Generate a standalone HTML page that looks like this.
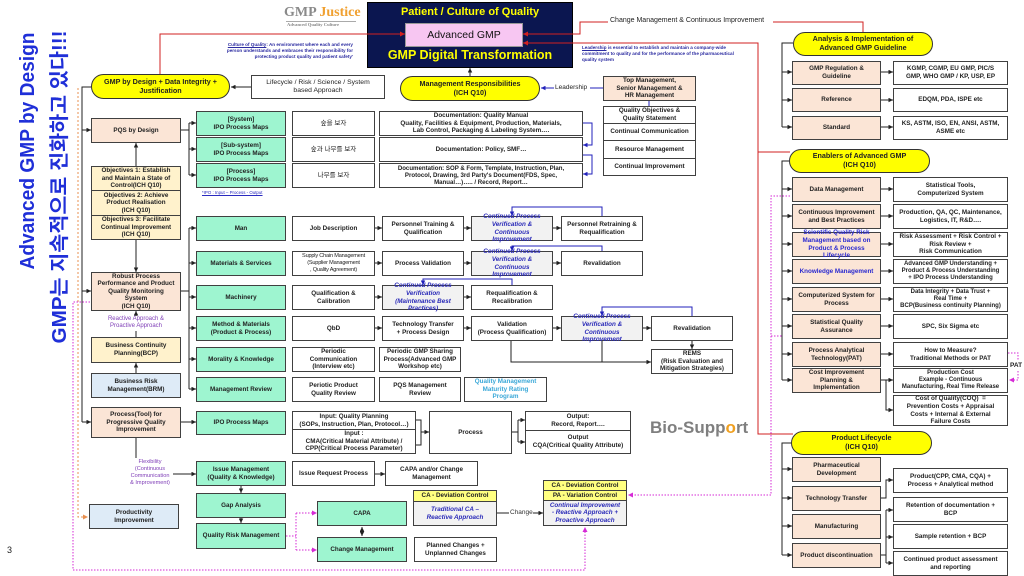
<!DOCTYPE html>
<html><head><meta charset="utf-8">
<style>
*{margin:0;padding:0;box-sizing:border-box}
body{width:1024px;height:576px;background:#fff;overflow:hidden;position:relative;font-family:"Liberation Sans","Noto Sans CJK KR",sans-serif}
.b{position:absolute;display:flex;align-items:center;justify-content:center;text-align:center;border:1px solid #404040;font-size:6.3px;font-weight:bold;line-height:1.2;color:#222;background:#fff;white-space:nowrap}
.pe{background:#fbe5d6}
.yl{background:#fff2cc}
.lb{background:#deebf7}
.gr{background:#9ef5d0}
.gy{background:#f2f2f2}
.el{background:#ffff00;border:1.3px solid #333;border-radius:13px;font-size:7.2px}
.cpv{color:#2a2ab8;font-style:italic}
.t{position:absolute;white-space:nowrap}
.kr{font-weight:normal;font-size:6.5px}
svg{position:absolute;left:0;top:0}
</style></head><body>

<!-- logo -->
<div class="t" style="left:284px;top:5px;font-family:'Liberation Serif',serif;font-weight:bold;font-size:14px;color:#8a8a8a">GMP <span style="color:#f0a030">Justice</span></div>
<div style="position:absolute;left:286px;top:21px;width:70px;height:1px;background:#aaa"></div>
<div class="t" style="left:287px;top:22px;font-family:'Liberation Serif',serif;font-weight:bold;font-size:4.6px;color:#888">Advanced Quality Culture</div>

<!-- Culture of Quality text -->
<div class="t" style="left:200px;top:42px;width:153px;text-align:right;font-size:4.6px;font-weight:bold;color:#2a2aa0;line-height:1.3"><u>Culture of Quality</u>: An environment where each and every<br>person understands and embraces their responsibility for<br>protecting product quality and patient safety'</div>

<!-- Navy header -->
<div style="position:absolute;left:367px;top:2px;width:206px;height:66px;background:#0b1650;border:1px solid #000"></div>
<div class="t" style="left:367px;top:6px;width:206px;text-align:center;font-size:11px;font-weight:bold;color:#ffff00">Patient / Culture of Quality</div>
<div style="position:absolute;left:405px;top:23px;width:118px;height:24px;background:#f7c6f2;border:1px solid #999;display:flex;align-items:center;justify-content:center;font-size:10.5px;color:#111">Advanced GMP</div>
<div class="t" style="left:367px;top:48px;width:206px;text-align:center;font-size:12.5px;font-weight:bold;color:#ffff00">GMP Digital Transformation</div>

<div class="t" style="left:610px;top:17px;font-size:7px;color:#222">Change Management &amp; Continuous Improvement</div>
<div class="t" style="left:582px;top:45px;font-size:4.6px;font-weight:bold;color:#2a2aa0;line-height:1.3"><u>Leadership</u> is essential to establish and maintain a company-wide<br>commitment to quality and for the performance of the pharmaceutical<br>quality system</div>

<!-- top row -->
<div class="b el" style="left:91px;top:74px;width:139px;height:25px">GMP by Design + Data Integrity +<br>Justification</div>
<div class="b" style="left:251px;top:75px;width:134px;height:24px;font-weight:normal;font-size:6.8px">Lifecycle / Risk / Science / System<br>based Approach</div>
<div class="b el" style="left:400px;top:76px;width:140px;height:25px">Management Responsibilities<br>(ICH Q10)</div>
<div class="t" style="left:555px;top:84px;font-size:6.5px;color:#222">Leadership</div>
<div class="b pe" style="left:603px;top:76px;width:93px;height:25px">Top Management,<br>Senior Management &amp;<br>HR Management</div>
<div class="b" style="left:603px;top:106px;width:93px;height:18px">Quality Objectives &amp;<br>Quality Statement</div>
<div class="b" style="left:603px;top:123px;width:93px;height:18px">Continual Communication</div>
<div class="b" style="left:603px;top:140px;width:93px;height:19px">Resource Management</div>
<div class="b" style="left:603px;top:158px;width:93px;height:18px">Continual Improvement</div>

<!-- left column -->
<div class="b pe" style="left:91px;top:118px;width:90px;height:25px">PQS by Design</div>
<div class="b yl" style="left:91px;top:166px;width:90px;height:25px">Objectives 1: Establish<br>and Maintain a State of<br>Control(ICH Q10)</div>
<div class="b yl" style="left:91px;top:190px;width:90px;height:26px">Objectives 2: Achieve<br>Product Realisation<br>(ICH Q10)</div>
<div class="b yl" style="left:91px;top:215px;width:90px;height:25px">Objectives 3: Facilitate<br>Continual Improvement<br>(ICH Q10)</div>
<div class="b pe" style="left:91px;top:272px;width:90px;height:39px">Robust Process<br>Performance and Product<br>Quality Monitoring<br>System<br>(ICH Q10)</div>
<div class="t" style="left:91px;top:316px;width:90px;text-align:center;font-size:6px;color:#8040b8;line-height:1.2">Reactive Approach &amp;<br>Proactive Approach</div>
<div class="b yl" style="left:91px;top:337px;width:90px;height:26px">Business Continuity<br>Planning(BCP)</div>
<div class="b lb" style="left:91px;top:373px;width:90px;height:25px">Business Risk<br>Management(BRM)</div>
<div class="b pe" style="left:91px;top:407px;width:90px;height:31px">Process(Tool) for<br>Progressive Quality<br>Improvement</div>
<div class="t" style="left:125px;top:459px;width:50px;text-align:center;font-size:5.6px;color:#8040b8;line-height:1.25">Flexibility<br>(Continuous<br>Communication<br>&amp; Improvement)</div>
<div class="b lb" style="left:89px;top:504px;width:90px;height:25px">Productivity<br>Improvement</div>

<!-- green column -->
<div class="b gr" style="left:196px;top:111px;width:90px;height:25px">[System]<br>IPO Process Maps</div>
<div class="b gr" style="left:196px;top:137px;width:90px;height:25px">[Sub-system]<br>IPO Process Maps</div>
<div class="b gr" style="left:196px;top:163px;width:90px;height:25px">[Process]<br>IPO Process Maps</div>
<div class="t" style="left:202px;top:190px;font-size:4.4px;color:#2a2ac0;text-decoration:underline">*IPO : Input – Process - Output</div>
<div class="b gr" style="left:196px;top:216px;width:90px;height:25px">Man</div>
<div class="b gr" style="left:196px;top:251px;width:90px;height:25px">Materials &amp; Services</div>
<div class="b gr" style="left:196px;top:285px;width:90px;height:25px">Machinery</div>
<div class="b gr" style="left:196px;top:316px;width:90px;height:25px">Method &amp; Materials<br>(Product &amp; Process)</div>
<div class="b gr" style="left:196px;top:347px;width:90px;height:25px">Morality &amp; Knowledge</div>
<div class="b gr" style="left:196px;top:377px;width:90px;height:25px">Management Review</div>
<div class="b gr" style="left:196px;top:411px;width:90px;height:24px">IPO Process Maps</div>
<div class="b gr" style="left:196px;top:461px;width:90px;height:25px">Issue Management<br>(Quality &amp; Knowledge)</div>
<div class="b gr" style="left:196px;top:493px;width:90px;height:25px">Gap Analysis</div>
<div class="b gr" style="left:196px;top:523px;width:90px;height:26px">Quality Risk Management</div>
<div class="b gr" style="left:317px;top:501px;width:90px;height:25px">CAPA</div>
<div class="b gr" style="left:317px;top:537px;width:90px;height:25px">Change Management</div>

<!-- col3 -->
<div class="b kr" style="left:292px;top:111px;width:83px;height:25px">숲을 보자</div>
<div class="b kr" style="left:292px;top:137px;width:83px;height:25px">숲과 나무를 보자</div>
<div class="b kr" style="left:292px;top:163px;width:83px;height:25px">나무를 보자</div>
<div class="b" style="left:292px;top:216px;width:83px;height:25px">Job Description</div>
<div class="b" style="left:292px;top:251px;width:83px;height:25px;font-size:5.6px;font-weight:normal;letter-spacing:-0.2px">Supply Chain Management<br>(Supplier Management<br>, Quality Agreement)</div>
<div class="b" style="left:292px;top:285px;width:83px;height:25px">Qualification &amp;<br>Calibration</div>
<div class="b" style="left:292px;top:316px;width:83px;height:25px">QbD</div>
<div class="b" style="left:292px;top:347px;width:83px;height:25px">Periodic<br>Communication<br>(Interview etc)</div>
<div class="b" style="left:292px;top:377px;width:83px;height:25px">Periotic Product<br>Quality Review</div>
<div class="b" style="left:292px;top:411px;width:124px;height:19px">Input: Quality Planning<br>(SOPs, Instruction, Plan, Protocol…)</div>
<div class="b" style="left:292px;top:429px;width:124px;height:25px">Input :<br>CMA(Critical Material Attribute) /<br>CPP(Critical Process Parameter)</div>
<div class="b" style="left:292px;top:461px;width:83px;height:25px">Issue Request Process</div>

<!-- documentation -->
<div class="b" style="left:379px;top:111px;width:204px;height:25px">Documentation: Quality Manual<br>Quality, Facilities &amp; Equipment, Production, Materials,<br>Lab Control, Packaging &amp; Labeling System….</div>
<div class="b" style="left:379px;top:137px;width:204px;height:25px">Documentation: Policy, SMF…</div>
<div class="b" style="left:379px;top:163px;width:204px;height:25px;font-size:6.1px">Documentation: SOP &amp; Form, Template, Instruction, Plan,<br>Protocol, Drawing, 3rd Party's Document(FDS, Spec,<br>Manual…)….. / Record, Report…</div>

<!-- process rows -->
<div class="b" style="left:382px;top:216px;width:82px;height:25px">Personnel Training &amp;<br>Qualification</div>
<div class="b gy cpv" style="left:471px;top:216px;width:82px;height:25px">Continued Process<br>Verification &amp;<br>Continuous<br>Improvement</div>
<div class="b" style="left:561px;top:216px;width:82px;height:25px">Personnel Retraining &amp;<br>Requalification</div>

<div class="b" style="left:382px;top:251px;width:82px;height:25px">Process Validation</div>
<div class="b gy cpv" style="left:471px;top:251px;width:82px;height:25px">Continued Process<br>Verification &amp;<br>Continuous<br>Improvement</div>
<div class="b" style="left:561px;top:251px;width:82px;height:25px">Revalidation</div>

<div class="b gy cpv" style="left:382px;top:285px;width:82px;height:25px">Continued Process<br>Verification<br>(Maintenance Best<br>Practices)</div>
<div class="b" style="left:471px;top:285px;width:82px;height:25px">Requalification &amp;<br>Recalibration</div>

<div class="b" style="left:382px;top:316px;width:82px;height:25px">Technology Transfer<br>+ Process Design</div>
<div class="b" style="left:471px;top:316px;width:82px;height:25px">Validation<br>(Process Qualification)</div>
<div class="b gy cpv" style="left:561px;top:316px;width:82px;height:25px">Continued Process<br>Verification &amp;<br>Continuous<br>Improvement</div>
<div class="b" style="left:651px;top:316px;width:82px;height:25px">Revalidation</div>
<div class="b" style="left:651px;top:349px;width:82px;height:25px">REMS<br>(Risk Evaluation and<br>Mitigation Strategies)</div>

<div class="b" style="left:379px;top:347px;width:82px;height:25px">Periodic GMP Sharing<br>Process(Advanced GMP<br>Workshop etc)</div>
<div class="b" style="left:379px;top:377px;width:82px;height:25px">PQS Management<br>Review</div>
<div class="b" style="left:464px;top:377px;width:83px;height:25px;color:#3aa8d8">Quality Management<br>Maturity Rating<br>Program</div>

<div class="b" style="left:429px;top:411px;width:83px;height:43px">Process</div>
<div class="b" style="left:525px;top:411px;width:106px;height:20px">Output:<br>Record, Report….</div>
<div class="b" style="left:525px;top:430px;width:106px;height:24px">Output<br>CQA(Critical Quality Attribute)</div>

<div class="t" style="left:650px;top:418px;font-size:17px;font-weight:bold;color:#7f7f7f">Bio-Supp<span style="color:#f0a020">o</span>rt</div>

<div class="b" style="left:385px;top:461px;width:93px;height:25px">CAPA and/or Change<br>Management</div>
<div class="b yl" style="left:413px;top:490px;width:84px;height:12px;background:#ffff80">CA - Deviation Control</div>
<div class="b gy cpv" style="left:413px;top:501px;width:84px;height:25px">Traditional CA –<br>Reactive Approach</div>
<div class="t" style="left:510px;top:509px;font-size:6.5px;color:#333">Change</div>
<div class="b" style="left:543px;top:480px;width:84px;height:11px;background:#ffff80">CA - Deviation Control</div>
<div class="b" style="left:543px;top:490px;width:84px;height:11px;background:#ffff80">PA - Variation Control</div>
<div class="b gy cpv" style="left:543px;top:500px;width:84px;height:26px">Continual Improvement<br>- Reactive Approach +<br>Proactive Approach</div>
<div class="b" style="left:414px;top:537px;width:83px;height:25px">Planned Changes +<br>Unplanned Changes</div>

<!-- right: analysis -->
<div class="b el" style="left:793px;top:32px;width:140px;height:24px">Analysis &amp; Implementation of<br>Advanced GMP Guideline</div>
<div class="b pe" style="left:792px;top:61px;width:89px;height:24px">GMP Regulation &amp;<br>Guideline</div>
<div class="b pe" style="left:792px;top:88px;width:89px;height:24px">Reference</div>
<div class="b pe" style="left:792px;top:116px;width:89px;height:24px">Standard</div>
<div class="b" style="left:893px;top:61px;width:115px;height:24px">KGMP, CGMP, EU GMP, PIC/S<br>GMP, WHO GMP / KP, USP, EP</div>
<div class="b" style="left:893px;top:88px;width:115px;height:24px">EDQM, PDA, ISPE etc</div>
<div class="b" style="left:893px;top:116px;width:115px;height:24px">KS, ASTM, ISO, EN, ANSI, ASTM,<br>ASME etc</div>

<!-- enablers -->
<div class="b el" style="left:789px;top:149px;width:141px;height:24px">Enablers of Advanced GMP<br>(ICH Q10)</div>
<div class="b pe" style="left:792px;top:177px;width:89px;height:25px">Data Management</div>
<div class="b pe" style="left:792px;top:204px;width:89px;height:25px">Continuous Improvement<br>and Best Practices</div>
<div class="b pe" style="left:792px;top:232px;width:89px;height:25px;color:#2a2ad0">Scientific Quality Risk<br>Management based on<br>Product &amp; Process<br>Lifecycle</div>
<div class="b pe" style="left:792px;top:259px;width:89px;height:25px;color:#2a2ad0">Knowledge Management</div>
<div class="b pe" style="left:792px;top:287px;width:89px;height:25px">Computerized System for<br>Process</div>
<div class="b pe" style="left:792px;top:314px;width:89px;height:25px">Statistical Quality<br>Assurance</div>
<div class="b pe" style="left:792px;top:342px;width:89px;height:25px">Process Analytical<br>Technology(PAT)</div>
<div class="b pe" style="left:792px;top:368px;width:89px;height:25px">Cost Improvement<br>Planning &amp;<br>Implementation</div>
<div class="b" style="left:893px;top:177px;width:115px;height:25px">Statistical Tools,<br>Computerized System</div>
<div class="b" style="left:893px;top:204px;width:115px;height:25px">Production, QA, QC, Maintenance,<br>Logistics, IT, R&amp;D….</div>
<div class="b" style="left:893px;top:232px;width:115px;height:25px">Risk Assessment + Risk Control +<br>Risk Review +<br>Risk Communication</div>
<div class="b" style="left:893px;top:259px;width:115px;height:25px;font-size:6px">Advanced GMP Understanding +<br>Product &amp; Process Understanding<br>+ IPO Process Understanding</div>
<div class="b" style="left:893px;top:287px;width:115px;height:25px;font-size:6px">Data Integrity + Data Trust +<br>Real Time +<br>BCP(Business continuity Planning)</div>
<div class="b" style="left:893px;top:314px;width:115px;height:25px">SPC, Six Sigma etc</div>
<div class="b" style="left:893px;top:342px;width:115px;height:25px">How to Measure?<br>Traditional Methods or PAT</div>
<div class="b" style="left:893px;top:368px;width:115px;height:25px;font-size:6px">Production Cost<br>Example - Continuous<br>Manufacturing, Real Time Release</div>
<div class="b" style="left:893px;top:395px;width:115px;height:31px">Cost of Quality(COQ)&nbsp; =<br>Prevention Costs + Appraisal<br>Costs + Internal &amp; External<br>Failure Costs</div>
<div class="t" style="left:1010px;top:362px;font-size:6.5px;font-weight:bold;color:#222">PAT</div>

<!-- product lifecycle -->
<div class="b el" style="left:791px;top:431px;width:141px;height:24px">Product Lifecycle<br>(ICH Q10)</div>
<div class="b pe" style="left:792px;top:457px;width:89px;height:25px">Pharmaceutical<br>Development</div>
<div class="b pe" style="left:792px;top:486px;width:89px;height:25px">Technology Transfer</div>
<div class="b pe" style="left:792px;top:514px;width:89px;height:25px">Manufacturing</div>
<div class="b pe" style="left:792px;top:543px;width:89px;height:25px">Product discontinuation</div>
<div class="b" style="left:893px;top:468px;width:115px;height:25px">Product(CPP, CMA, CQA) +<br>Process + Analytical method</div>
<div class="b" style="left:893px;top:497px;width:115px;height:25px">Retention of documentation +<br>BCP</div>
<div class="b" style="left:893px;top:524px;width:115px;height:25px">Sample retention + BCP</div>
<div class="b" style="left:893px;top:551px;width:115px;height:25px">Continued product assessment<br>and reporting</div>

<div class="t" style="left:7px;top:545px;font-size:9px;color:#222">3</div>

<svg width="1024" height="576" viewBox="0 0 1024 576">
<defs>
<marker id="a" viewBox="0 0 10 10" refX="10" refY="5" markerWidth="4.5" markerHeight="4.5" markerUnits="userSpaceOnUse" orient="auto-start-reverse"><path d="M0,0L10,5L0,10z" fill="#222"/></marker>
<marker id="ab" viewBox="0 0 10 10" refX="10" refY="5" markerWidth="4.5" markerHeight="4.5" markerUnits="userSpaceOnUse" orient="auto"><path d="M0,0L10,5L0,10z" fill="#2222bb"/></marker>
<marker id="ar" viewBox="0 0 10 10" refX="10" refY="5" markerWidth="5" markerHeight="5" markerUnits="userSpaceOnUse" orient="auto"><path d="M0,0L10,5L0,10z" fill="#d02020"/></marker>
<marker id="am" viewBox="0 0 10 10" refX="10" refY="5" markerWidth="5" markerHeight="5" markerUnits="userSpaceOnUse" orient="auto"><path d="M0,0L10,5L0,10z" fill="#d62ad6"/></marker>
<marker id="ao" viewBox="0 0 10 10" refX="10" refY="5" markerWidth="5" markerHeight="5" markerUnits="userSpaceOnUse" orient="auto"><path d="M0,0L10,5L0,10z" fill="#e89050"/></marker>
</defs>

<text transform="translate(34,151) rotate(-90)" text-anchor="middle" font-family="Liberation Sans, sans-serif" font-size="20" font-weight="bold" fill="#1f2fd8" textLength="237" lengthAdjust="spacingAndGlyphs">Advanced GMP by Design</text>
<text transform="translate(66,187) rotate(-90)" text-anchor="middle" font-family="Liberation Sans, Noto Sans CJK KR, sans-serif" font-size="20" font-weight="bold" fill="#1f2fd8" textLength="313" lengthAdjust="spacingAndGlyphs">GMP는 지속적으로 진화하고 있다!!!</text>

<!-- orange dashed -->
<path d="M78,88V517H88" fill="none" stroke="#e89050" stroke-width="1" stroke-dasharray="2,2" marker-end="url(#ao)"/>

<!-- magenta dotted -->
<g fill="none" stroke="#d62ad6" stroke-width="1" stroke-dasharray="1.5,1.5">
<path d="M90,302H73V570H585V527" marker-end="url(#am)"/>
<path d="M790,196H771V495H628" marker-end="url(#am)"/>
<path d="M771,336H782"/>
<path d="M1008,353H1018V361"/>
<path d="M1018,371V380H1009" marker-end="url(#am)"/>
<path d="M286,536H296"/>
<path d="M296,513V550"/>
<path d="M296,513H317" marker-end="url(#am)"/>
<path d="M296,550H317" marker-end="url(#am)"/>
</g>

<!-- red -->
<g fill="none" stroke="#d02020" stroke-width="1">
<path d="M160,74V34H405" marker-end="url(#ar)"/>
<path d="M608,22H580V34H523" marker-end="url(#ar)"/>
<path d="M773,22H863V32"/>
<path d="M790,152H758"/>
<path d="M793,434H758V43H523" marker-end="url(#ar)"/>
</g>

<!-- blue -->
<g fill="none" stroke="#2222bb" stroke-width="1">
<path d="M603,88H590"/>
<path d="M554,88H541" marker-end="url(#ab)"/>
<path d="M649,101V106"/>
<path d="M583,123H592V145H583" marker-end="url(#ab)"/>
<path d="M583,155H592V174H583" marker-end="url(#ab)"/>
<path d="M602,216V207H512V216" marker-end="url(#ab)"/>
<path d="M602,251V246H512V251" marker-end="url(#ab)"/>
<path d="M512,285V279H423V285" marker-end="url(#ab)"/>
<path d="M692,316V307H602V316" marker-end="url(#ab)"/>
</g>

<!-- black -->
<g fill="none" stroke="#222" stroke-width="1">
<path d="M251,87H231" marker-end="url(#a)"/>
<path d="M91,87H82V422"/>
<path d="M82,130H91" marker-end="url(#a)"/>
<path d="M82,291H91" marker-end="url(#a)"/>
<path d="M82,422H91" marker-end="url(#a)"/>
<path d="M136,166V143" marker-end="url(#a)"/>
<path d="M136,240V272" marker-end="url(#a)"/>
<path d="M136,337V331"/>
<path d="M136,316V311" marker-end="url(#a)"/>
<path d="M136,373V363" marker-end="url(#a)"/>
<path d="M181,130H189M189,123V175"/>
<path d="M189,123H196" marker-end="url(#a)"/>
<path d="M189,149H196" marker-end="url(#a)"/>
<path d="M189,175H196" marker-end="url(#a)"/>
<path d="M181,291H189M189,228V389"/>
<path d="M189,228H196" marker-end="url(#a)"/>
<path d="M189,263H196" marker-end="url(#a)"/>
<path d="M189,297H196" marker-end="url(#a)"/>
<path d="M189,328H196" marker-end="url(#a)"/>
<path d="M189,359H196" marker-end="url(#a)"/>
<path d="M189,389H196" marker-end="url(#a)"/>
<path d="M181,422H196" marker-end="url(#a)"/>
<path d="M136,438V458"/>
<path d="M173,474H196" marker-end="url(#a)"/>
<path d="M241,486V493" marker-end="url(#a)"/>
<path d="M241,518V523" marker-end="url(#a)"/>
<path d="M375,228H382" marker-end="url(#a)"/>
<path d="M375,263H382" marker-end="url(#a)"/>
<path d="M375,297H382" marker-end="url(#a)"/>
<path d="M375,328H382" marker-end="url(#a)"/>
<path d="M464,228H471" marker-end="url(#a)"/>
<path d="M553,228H561" marker-end="url(#a)"/>
<path d="M464,263H471" marker-end="url(#a)"/>
<path d="M553,263H561" marker-end="url(#a)"/>
<path d="M464,297H471" marker-end="url(#a)"/>
<path d="M464,328H471" marker-end="url(#a)"/>
<path d="M553,328H561" marker-end="url(#a)"/>
<path d="M643,328H651" marker-end="url(#a)"/>
<path d="M692,341V349" marker-end="url(#a)"/>
<path d="M511,341V362H651" marker-end="url(#a)"/>
<path d="M602,341V362"/>
<path d="M416,420H421V445H416M421,432H429" marker-end="url(#a)"/>
<path d="M512,432H518M518,420V442"/>
<path d="M518,420H525" marker-end="url(#a)"/>
<path d="M518,442H525" marker-end="url(#a)"/>
<path d="M375,474H385" marker-end="url(#a)"/>
<path d="M497,513H509"/>
<path d="M533,513H543" marker-end="url(#a)"/>
<path d="M362,527V536" marker-start="url(#a)" marker-end="url(#a)"/>
<path d="M470,76V68" marker-end="url(#a)"/>

<path d="M793,43H782V127"/>
<path d="M782,72H792" marker-end="url(#a)"/>
<path d="M782,100H792" marker-end="url(#a)"/>
<path d="M782,127H792" marker-end="url(#a)"/>
<path d="M881,72H893" marker-end="url(#a)"/>
<path d="M881,100H893" marker-end="url(#a)"/>
<path d="M881,127H893" marker-end="url(#a)"/>

<path d="M789,161H782V380"/>
<path d="M782,189H792" marker-end="url(#a)"/>
<path d="M782,216H792" marker-end="url(#a)"/>
<path d="M782,244H792" marker-end="url(#a)"/>
<path d="M782,271H792" marker-end="url(#a)"/>
<path d="M782,299H792" marker-end="url(#a)"/>
<path d="M782,326H792" marker-end="url(#a)"/>
<path d="M782,354H792" marker-end="url(#a)"/>
<path d="M782,380H792" marker-end="url(#a)"/>
<path d="M881,189H893" marker-end="url(#a)"/>
<path d="M881,216H893" marker-end="url(#a)"/>
<path d="M881,244H893" marker-end="url(#a)"/>
<path d="M881,271H893" marker-end="url(#a)"/>
<path d="M881,299H893" marker-end="url(#a)"/>
<path d="M881,326H893" marker-end="url(#a)"/>
<path d="M881,354H893" marker-end="url(#a)"/>
<path d="M881,380H893" marker-end="url(#a)"/>
<path d="M886,380V410H893" marker-end="url(#a)"/>

<path d="M791,443H782V555"/>
<path d="M782,469H792" marker-end="url(#a)"/>
<path d="M782,498H792" marker-end="url(#a)"/>
<path d="M782,526H792" marker-end="url(#a)"/>
<path d="M782,555H792" marker-end="url(#a)"/>
<path d="M881,498H886V480H893" marker-end="url(#a)"/>
<path d="M881,555H886M886,510V563"/>
<path d="M886,510H893" marker-end="url(#a)"/>
<path d="M886,537H893" marker-end="url(#a)"/>
<path d="M886,563H893" marker-end="url(#a)"/>
</g>
</svg>
</body></html>
